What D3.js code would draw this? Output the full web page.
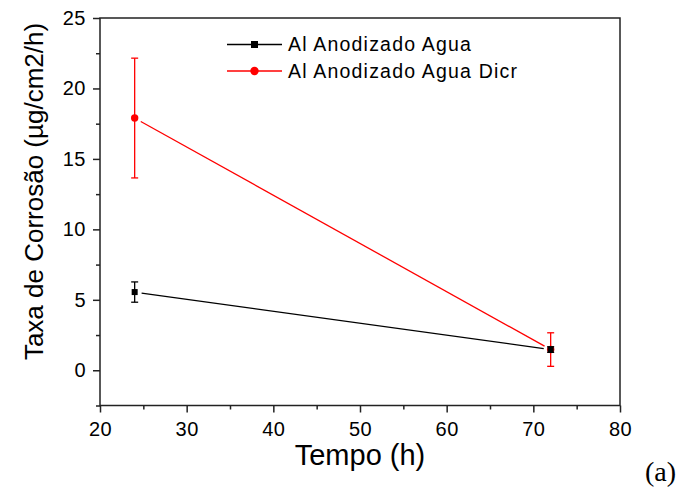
<!DOCTYPE html>
<html><head><meta charset="utf-8">
<script src="https://cdn.jsdelivr.net/npm/d3@7"></script>
<style>
body{margin:0;background:#fff;}
svg{display:block;}
text{font-family:"Liberation Sans",Arial,sans-serif;fill:#000;}
</style></head>
<body><svg id="c" width="689" height="487"></svg>
<script>
const tempo = [24, 72];
const aguaValues = [5.55, 1.47];
const aguaErrors = [0.72, 0.2];
const dicrValues = [17.9, 1.47];
const dicrErrors = [4.25, 1.19];
const seriesNames = ["Al Anodizado Agua", "Al Anodizado Agua Dicr"];
const xTicks = [20, 30, 40, 50, 60, 70, 80];
const xMinor = [25, 35, 45, 55, 65, 75];
const yTicks = [0, 5, 10, 15, 20, 25];
const yMinor = [-2.5, 2.5, 7.5, 12.5, 17.5, 22.5];

const svg = d3.select("#c");
const x = d3.scaleLinear().domain([20, 80]).range([100, 620]);
const y = d3.scaleLinear().domain([-2.5, 25]).range([405.5, 18]);

// axes
const fs = "20px";
const gx = svg.append("g").attr("transform", "translate(0,405.5)")
  .call(d3.axisBottom(x).tickValues(xTicks).tickSize(7).tickPadding(9.5).tickFormat(d3.format("d")));
const gxm = svg.append("g").attr("transform", "translate(0,405.5)")
  .call(d3.axisBottom(x).tickValues(xMinor).tickSize(4).tickFormat(""));
const gy = svg.append("g").attr("transform", "translate(100,0)")
  .call(d3.axisLeft(y).tickValues(yTicks).tickSize(7).tickPadding(7).tickFormat(d3.format("d")));
const gym = svg.append("g").attr("transform", "translate(100,0)")
  .call(d3.axisLeft(y).tickValues(yMinor).tickSize(4).tickFormat(""));
[gx, gxm, gy, gym].forEach(g => {
  g.select(".domain").remove();
  g.selectAll(".tick line").attr("stroke", "#222").attr("stroke-width", 1.5);
  g.selectAll(".tick text").style("font-size", fs).style("letter-spacing", "0.5px").attr("fill", "#111");
});
// frame
svg.append("rect").attr("x", 100).attr("y", 18).attr("width", 520).attr("height", 387.5)
  .attr("fill", "none").attr("stroke", "#222").attr("stroke-width", 1.5);

// axis titles
svg.append("text").attr("x", 360).attr("y", 465).attr("text-anchor", "middle")
  .style("font-size", "29px").text("Tempo (h)");
svg.append("text").attr("transform", "translate(43,191.5) rotate(-90)").attr("text-anchor", "middle")
  .style("font-size", "26px").text("Taxa de Corrosão (µg/cm2/h)");
svg.append("text").attr("x", 645).attr("y", 481)
  .style("font-family", "'Liberation Serif','Times New Roman',serif").style("font-size", "28px").text("(a)");

const gap = 7;
function drawSeries(vals, errs, color, marker) {
  const g = svg.append("g");
  for (let i = 0; i < vals.length - 1; i++) {
    const x1 = x(tempo[i]), y1 = y(vals[i]), x2 = x(tempo[i + 1]), y2 = y(vals[i + 1]);
    const L = Math.hypot(x2 - x1, y2 - y1), ux = (x2 - x1) / L, uy = (y2 - y1) / L;
    g.append("line").attr("x1", x1 + ux * gap).attr("y1", y1 + uy * gap)
      .attr("x2", x2 - ux * gap).attr("y2", y2 - uy * gap)
      .attr("stroke", color).attr("stroke-width", 1.3);
  }
  vals.forEach((v, i) => {
    const cx = x(tempo[i]);
    g.append("line").attr("x1", cx).attr("x2", cx).attr("y1", y(v - errs[i])).attr("y2", y(v + errs[i]))
      .attr("stroke", color).attr("stroke-width", 1.3);
    [v - errs[i], v + errs[i]].forEach(e => {
      g.append("line").attr("x1", cx - 3.5).attr("x2", cx + 3.5).attr("y1", y(e)).attr("y2", y(e))
        .attr("stroke", color).attr("stroke-width", 1.3);
    });
  });
  vals.forEach((v, i) => drawMarker(g, x(tempo[i]), y(v), color, marker, 6));
}
function drawMarker(g, cx, cy, color, marker, s) {
  if (marker === "square") {
    g.append("rect").attr("x", cx - s / 2).attr("y", cy - s / 2).attr("width", s).attr("height", s).attr("fill", color);
  } else {
    g.append("circle").attr("cx", cx).attr("cy", cy).attr("r", s / 2 + 0.7).attr("fill", color);
  }
}
drawSeries(dicrValues, dicrErrors, "#ff0000", "circle");
drawSeries(aguaValues, aguaErrors, "#000000", "square");

// legend
const legend = [{name: seriesNames[0], color: "#000", marker: "square", y: 44.5},
                {name: seriesNames[1], color: "#ff0000", marker: "circle", y: 71}];
legend.forEach(d => {
  svg.append("line").attr("x1", 227).attr("x2", 282).attr("y1", d.y).attr("y2", d.y)
    .attr("stroke", d.color).attr("stroke-width", 1.3);
  drawMarker(svg, 254.5, d.y, d.color, d.marker, 7);
  svg.append("text").attr("x", 288).attr("y", d.y + 6.5).style("font-size", "19.5px")
    .style("letter-spacing", "1.2px").text(d.name);
});
</script></body></html>
